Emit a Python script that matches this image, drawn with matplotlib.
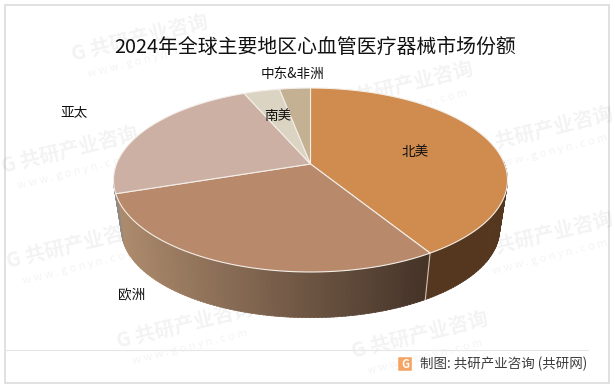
import matplotlib
matplotlib.use('Agg')
import matplotlib.pyplot as plt
from matplotlib.patches import Polygon, Rectangle, FancyBboxPatch
import numpy as np

plt.rcParams['font.family'] = ['Noto Sans CJK SC', 'DejaVu Sans']

regions = ['北美', '欧洲', '亚太', '南美', '中东&非洲']
shares = [41.2, 28.7, 23.6, 3.5, 3.0]
top_colors = ['#d08b4e', '#b8896b', '#ccb0a4', '#dbd4c2', '#c4b093']

# apex of the tilted pie, in pixels, plus the perspective factor
cx, cy = 310.5, 164
a, b, k = 194, 89.2, -0.174
depth_y = 50
depth_s = 0.96


def rim(theta, scale=1.0, dy=0):
    # theta in degrees clockwise from the top
    t = np.radians(theta)
    u, v = np.sin(t), np.cos(t)
    w = 1 + 0.174 * v
    return cx + scale * a * u / w, cy + dy - scale * b * v / w


fig = plt.figure(figsize=(6.15, 3.87), dpi=100)
ax = fig.add_axes([0, 0, 1, 1])
ax.set_xlim(0, 615)
ax.set_ylim(387, 0)
ax.axis('off')

ax.add_patch(Rectangle((4.5, 5), 604.5, 378, fc='white', ec='#dcdcdc', lw=1.2, zorder=0))

edges = 360 * np.cumsum([0] + shares) / sum(shares)

# side wall
c_left = np.array([172, 138, 108]) / 255
c_right = np.array([70, 52, 41]) / 255
steps = np.arange(88, 262, 1.0)
for t in steps:
    ts = np.linspace(t, t + 1.2, 3)
    x1, y1 = rim(ts)
    x2, y2 = rim(ts[::-1], depth_s, depth_y)
    xm = x1.mean()
    if t < edges[1]:
        col = '#55361e'
    elif t < edges[2]:
        f = np.clip((xm - 120) / (425 - 120), 0, 1)
        col = c_left * (1 - f) + c_right * f
    else:
        col = '#8f8a84'
    ax.add_patch(Polygon(np.c_[np.r_[x1, x2], np.r_[y1, y2]], fc=col, ec=col, lw=0.5, zorder=2))

x1, y1 = rim(edges[1])
x2, y2 = rim(edges[1], depth_s, depth_y)
ax.plot([x1, x2], [y1, y2], color='#c9c4bd', lw=0.8, zorder=3)

# top face
for i in range(len(shares)):
    ts = np.linspace(edges[i], edges[i + 1], 120)
    x, y = rim(ts)
    ax.add_patch(Polygon(np.c_[np.r_[cx, x], np.r_[cy, y]], fc=top_colors[i],
                         ec='#f3eee8', lw=0.8, zorder=4))

label_xy = [(415, 152), (132, 294), (74, 112), (278, 116), (293, 74)]
for name, (lx, ly) in zip(regions, label_xy):
    ax.text(lx, ly, name, fontsize=9.8, color='#111111', ha='center', va='center', zorder=6)

ax.text(315, 47, '2024年全球主要地区心血管医疗器械市场份额', fontsize=14.3, color='#111111',
        ha='center', va='center', zorder=6)

# watermark, behind the pie
mark_xy = [(140, 38), (405, 85), (70, 150), (545, 130), (75, 245), (545, 235),
           (185, 325), (420, 335)]
for mx, my in mark_xy:
    ax.text(mx, my, 'G 共研产业咨询', fontsize=14.5, fontweight='bold', color='#000000', alpha=0.05,
            rotation=14, ha='center', va='center', zorder=1)
    ax.text(mx + 5, my + 22, 'w w w . g o n y n . c o m', fontsize=8, color='#000000', alpha=0.05,
            rotation=14, ha='center', va='center', zorder=1)

# footer
ax.plot([5, 588], [349.5, 349.5], color='#e6e6e6', lw=0.8, zorder=6)
ax.add_patch(FancyBboxPatch((399, 358), 12, 12, boxstyle='round,pad=0.8', fc='#f6a463', ec='none', zorder=6))
ax.text(405, 364, 'G', fontsize=8, fontweight='bold', color='white', ha='center', va='center', zorder=7)
ax.text(420, 364, '制图: 共研产业咨询 (共研网)', fontsize=9.7, color='#3c3c3c', ha='left', va='center', zorder=7)

fig.savefig('out.png', dpi=100)
